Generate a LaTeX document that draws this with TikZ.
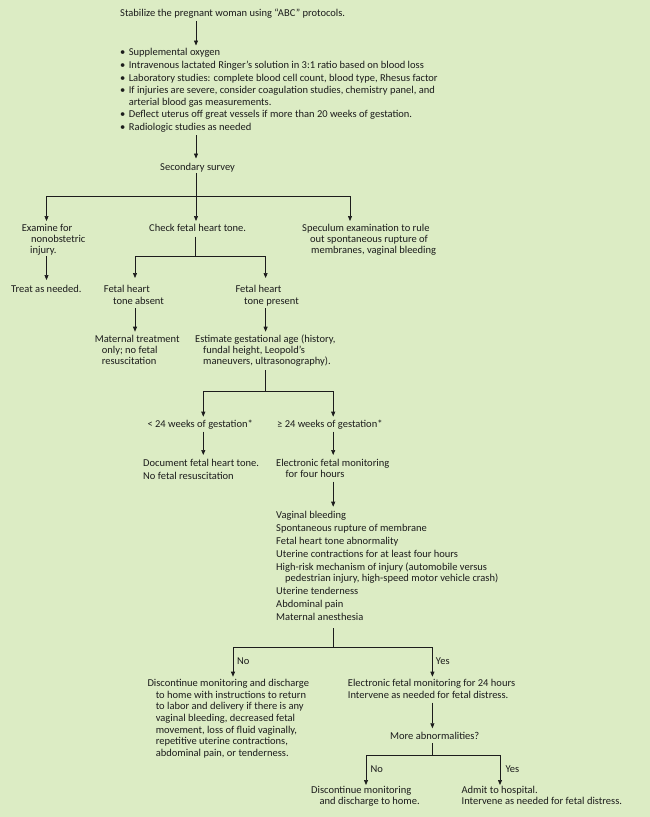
\documentclass[tikz,border=0pt]{standalone}
\usepackage{fontspec}
\setmainfont{Carlito}
\usetikzlibrary{arrows.meta}
\definecolor{bg}{RGB}{220,236,196}
\definecolor{ink}{RGB}{28,28,28}
\tikzset{
  txt/.style={anchor=base west, inner sep=0pt, align=left, text=ink,
    font=\fontsize{10.5}{11.5}\selectfont},
  ls/.style={font=\fontsize{10.5}{#1}\selectfont},
  conn/.style={draw=ink, line width=0.7pt},
  arr/.style={conn, -{Triangle[length=5pt,width=4pt]}},
}
\newcommand{\ind}[1]{\hspace*{#1pt}}
\newcommand{\bul}{\makebox[8.6pt][l]{•}}
\begin{document}
\begin{tikzpicture}[x=1pt,y=-1pt]
\fill[bg] (0,0) rectangle (650,817);
\useasboundingbox (0,0) rectangle (650,817);

% ---------- texts (anchor = baseline of the last line) ----------
\node[txt] (stab) at (120,16.5) {Stabilize the pregnant woman using “ABC” protocols.};
\node[txt, ls=11.3] (list) at (120,130.5)
 {\bul Supplemental oxygen\\[1.4pt]
  \bul Intravenous lactated Ringer’s solution in 3:1 ratio based on blood loss\\[1.4pt]
  \bul Laboratory studies: complete blood cell count, blood type, Rhesus factor\\[1.4pt]
  \bul If injuries are severe, consider coagulation studies, chemistry panel, and\\
  \ind{8.6}arterial blood gas measurements.\\[1.4pt]
  \bul Deflect uterus off great vessels if more than 20 weeks of gestation.\\[1.4pt]
  \bul Radiologic studies as needed};
\node[txt] (ss) at (160,170) {Secondary survey};

\node[txt, ls=10.9] (ex) at (21.6,253.2) {Examine for\\ \ind{9.4}nonobstetric\\ \ind{8.4}injury.};
\node[txt] (chk) at (149,231.5) {Check fetal heart tone.};
\node[txt, ls=10.9] (spec) at (302,253.2) {Speculum examination to rule\\ \ind{8}out spontaneous rupture of\\ \ind{9}membranes, vaginal bleeding};

\node[txt] (treat) at (11,292.5) {Treat as needed.};
\node[txt, ls=11.7] (absent) at (103.7,304.2) {Fetal heart\\ \ind{9.2}tone absent};
\node[txt, ls=11.7] (present) at (235.3,304.2) {Fetal heart\\ \ind{8.7}tone present};

\node[txt, ls=11] (mat) at (94.6,364.2) {Maternal treatment\\ \ind{7}only; no fetal\\ \ind{7}resuscitation};
\node[txt, ls=11] (est) at (195,364.2) {Estimate gestational age (history,\\ \ind{8}fundal height, Leopold’s\\ \ind{8}maneuvers, ultrasonography).};

\node[txt] (lt) at (147.3,427.2) {< 24 weeks of gestation*};
\node[txt] (ge) at (277,427.2) {≥ 24 weeks of gestation*};

\node[txt, ls=12.7] (doc) at (143,479) {Document fetal heart tone.\\ No fetal resuscitation};
\node[txt, ls=11] (efm) at (276,477.5) {Electronic fetal monitoring\\ \ind{9.5}for four hours};

\node[txt, ls=11.5] (crit) at (276,620.5)
 {Vaginal bleeding\\[1.4pt]
  Spontaneous rupture of membrane\\[1.4pt]
  Fetal heart tone abnormality\\[1.4pt]
  Uterine contractions for at least four hours\\[1.4pt]
  High-risk mechanism of injury (automobile versus\\
  \ind{9}pedestrian injury, high-speed motor vehicle crash)\\[1.4pt]
  Uterine tenderness\\[1.4pt]
  Abdominal pain\\[1.4pt]
  Maternal anesthesia};

\node[txt, ls=11.67] (disc) at (147.3,756.5)
 {Discontinue monitoring and discharge\\
  \ind{8.3}to home with instructions to return\\
  \ind{8.3}to labor and delivery if there is any\\
  \ind{8.3}vaginal bleeding, decreased fetal\\
  \ind{8.3}movement, loss of fluid vaginally,\\
  \ind{8.3}repetitive uterine contractions,\\
  \ind{8.3}abdominal pain, or tenderness.};
\node[txt, ls=11.7] (efm24) at (347.7,698.2) {Electronic fetal monitoring for 24 hours\\ Intervene as needed for fetal distress.};

\node[txt] (more) at (390,739.2) {More abnormalities?};

\node[txt, ls=11.7] (disc2) at (311,804.9) {Discontinue monitoring\\ \ind{8.5}and discharge to home.};
\node[txt, ls=11.7] (admit) at (461.4,804.9) {Admit to hospital.\\ Intervene as needed for fetal distress.};

\node[txt] (no1) at (237,664) {No};
\node[txt] (yes1) at (435.7,664) {Yes};
\node[txt] (no2) at (370.5,772.2) {No};
\node[txt] (yes2) at (505.4,772.2) {Yes};

% ---------- connector points ----------
\coordinate (s1) at (196,21);    \coordinate (e1) at (196,45.5);
\coordinate (s2) at (196,135);   \coordinate (e2) at (196,158.5);
\coordinate (s3) at (196,173);   \coordinate (j3) at (196,196.7);
\coordinate (t3a) at (46.5,221); \coordinate (t3b) at (196,221); \coordinate (t3c) at (350,221);
\coordinate (s4) at (46.5,256);  \coordinate (e4) at (46.5,280);
\coordinate (s5) at (195.5,236.7); \coordinate (j5) at (195.5,256.7);
\coordinate (t5a) at (135,278);  \coordinate (t5b) at (265.6,278);
\coordinate (s6) at (135,308);   \coordinate (e6) at (135,331.7);
\coordinate (s7) at (265.6,308); \coordinate (e7) at (265.6,331.7);
\coordinate (s8) at (265.6,370); \coordinate (j8) at (265.6,391.7);
\coordinate (t8a) at (203.3,416.7); \coordinate (t8b) at (333.2,416.7);
\coordinate (s9) at (203.3,431.7); \coordinate (e9) at (203.3,455);
\coordinate (s10) at (333.2,431.7); \coordinate (e10) at (333.2,455);
\coordinate (s11) at (333.2,481.7); \coordinate (e11) at (333.2,506.7);
\coordinate (s12) at (333.2,628); \coordinate (j12) at (333.2,647.3);
\coordinate (t12a) at (233,676.7); \coordinate (t12b) at (432.4,676.7);
\coordinate (s13) at (432.4,702.7); \coordinate (e13) at (432.4,728.3);
\coordinate (s14) at (432.4,743.3); \coordinate (j14) at (432.4,755.7);
\coordinate (t14a) at (366,785); \coordinate (t14b) at (500,785);

% ---------- connectors ----------
\draw[arr] (s1) -- (e1);
\draw[arr] (s2) -- (e2);
\draw[conn] (s3) -- (j3);
\draw[arr] (j3) -| (t3a);
\draw[arr] (j3) -- (t3b);
\draw[arr] (j3) -| (t3c);
\draw[arr] (s4) -- (e4);
\draw[conn] (s5) -- (j5);
\draw[arr] (j5) -| (t5a);
\draw[arr] (j5) -| (t5b);
\draw[arr] (s6) -- (e6);
\draw[arr] (s7) -- (e7);
\draw[conn] (s8) -- (j8);
\draw[arr] (j8) -| (t8a);
\draw[arr] (j8) -| (t8b);
\draw[arr] (s9) -- (e9);
\draw[arr] (s10) -- (e10);
\draw[arr] (s11) -- (e11);
\draw[conn] (s12) -- (j12);
\draw[arr] (j12) -| (t12a);
\draw[arr] (j12) -| (t12b);
\draw[arr] (s13) -- (e13);
\draw[conn] (s14) -- (j14);
\draw[arr] (j14) -| (t14a);
\draw[arr] (j14) -| (t14b);
\end{tikzpicture}
\end{document}
